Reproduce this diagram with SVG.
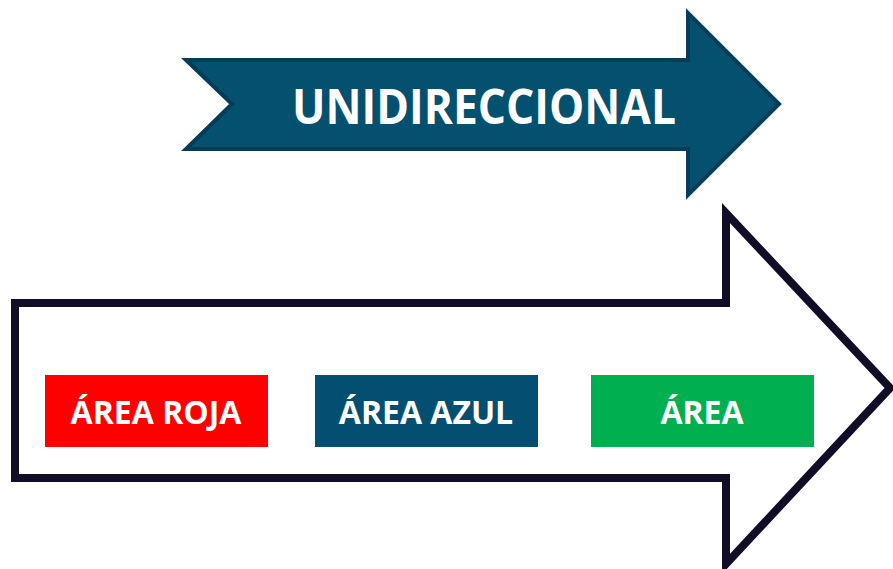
<svg xmlns="http://www.w3.org/2000/svg" width="893" height="569" viewBox="0 0 893 569">
<style>
.lbl{font-family:"Open Sans","Liberation Sans",sans-serif;font-weight:bold;fill:#ffffff;text-anchor:middle}
</style>
<rect width="893" height="569" fill="#ffffff"/>
<g id="unidireccional">
<polygon points="186,60 688,60 688,13 779,104 688,195 688,149 186,149 232,104" fill="#03506f" stroke="#063c57" stroke-width="4" stroke-linejoin="miter"/>
<text class="lbl" x="484" y="124" font-size="48" textLength="384" lengthAdjust="spacingAndGlyphs">UNIDIRECCIONAL</text>
</g>
<g id="flecha">
<polygon points="15,303 726,303 726,213 890,388 726,564 726,478 15,478" fill="#ffffff" stroke="#110d26" stroke-width="8" stroke-linejoin="miter" stroke-miterlimit="10"/>
</g>
<g id="area-roja">
<rect x="45" y="375" width="223" height="72" fill="#ff0000"/>
<text class="lbl" x="156" y="424" font-size="32">ÁREA ROJA</text>
</g>
<g id="area-azul">
<rect x="315" y="375" width="223" height="72" fill="#034f72"/>
<text class="lbl" x="426" y="424" font-size="32">ÁREA AZUL</text>
</g>
<g id="area-verde">
<rect x="591" y="375" width="223" height="72" fill="#00b050"/>
<text class="lbl" x="702" y="424" font-size="32">ÁREA</text>
</g>
</svg>
